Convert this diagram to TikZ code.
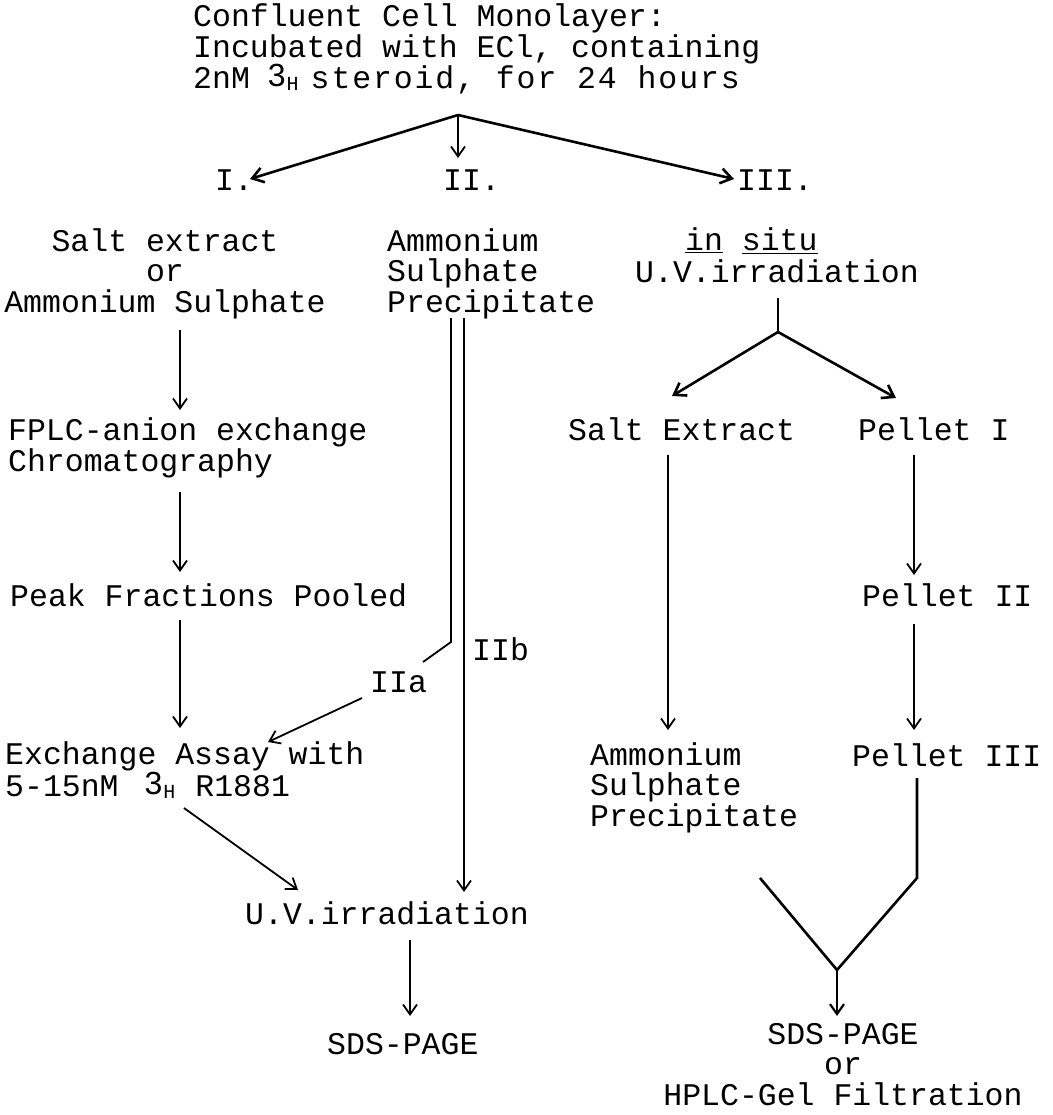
\documentclass[tikz,border=0pt]{standalone}
\usepackage{fontspec}
\setmainfont{Liberation Mono}
\setmonofont{Liberation Mono}
\setsansfont{Liberation Sans}
\usetikzlibrary{arrows.meta}
\newcommand\twfont{\fontsize{31.5}{30.5}\selectfont}
\newcommand\threeH{{\sffamily\fontsize{32}{32}\selectfont\raisebox{2pt}{3}}\hspace{1pt}{\fontsize{20}{20}\selectfont\raisebox{-2pt}{H}}}
\begin{document}
\begin{tikzpicture}[x=1pt,y=-1pt,
  txt/.style={inner sep=0pt, font=\twfont, anchor=base west, align=left},
  ctxt/.style={inner sep=0pt, font=\twfont, anchor=base, align=center},
  arr/.style={line width=1.8pt, -{Straight Barb[length=10pt,width=14pt]}},
  barr/.style={line width=2.6pt, -{Straight Barb[length=11pt,width=15pt]}},
  ln/.style={line width=1.8pt},
  bln/.style={line width=2.6pt, line join=miter}]
\useasboundingbox (0,0) rectangle (1052,1115);
% texts (base anchor = baseline of the last line)
\node[txt] (title) at (193,89) {Confluent Cell Monolayer:\\Incubated with ECl, containing\\2nM\hspace{18pt}\threeH\hspace{12pt}{\addfontfeature{LetterSpace=6}steroid, for 24 hours}};
\node[txt] (I) at (215,191) {I.};
\node[txt] (II) at (443,191) {II.};
\node[txt] (III) at (737,191) {III.};
\node[ctxt] (salt) at (165,312) {Salt extract\\or\\Ammonium Sulphate};
\node[txt] (amm) at (387,312) {Ammonium\\Sulphate\\Precipitate};
\node[txt] (insitu) at (685,251) {\underline{in} \underline{situ}};
\node[txt] (uv3) at (635,282) {U.V.irradiation};
\node[txt] (fplc) at (8,471) {FPLC-anion exchange\\Chromatography};
\node[txt] (saltx) at (568,440) {Salt Extract};
\node[txt] (p1) at (858,440) {Pellet I};
\node[txt] (peak) at (10,606) {Peak Fractions Pooled};
\node[txt] (p2) at (862,606) {Pellet II};
\node[txt] (IIb) at (472,660) {IIb};
\node[txt] (IIa) at (370,692) {IIa};
\node[txt] (exch) at (5,796) {Exchange Assay with\\5-15nM\hspace{26pt}\threeH\hspace{20pt}R1881};
\node[txt] (amm3) at (590,826) {Ammonium\\Sulphate\\Precipitate};
\node[txt] (p3) at (852,766) {Pellet III};
\node[txt] (uv) at (245,924) {U.V.irradiation};
\node[txt] (sds) at (327,1054) {SDS-PAGE};
\node[ctxt] (final) at (843,1105) {SDS-PAGE\\or\\HPLC-Gel Filtration};
% coordinates
\coordinate (apex) at (458,115);
\coordinate (tI) at (250,179);
\coordinate (tII) at (458,158);
\coordinate (tIII) at (734,179);
\coordinate (b3top) at (778,298);
\coordinate (b3) at (778,332);
\coordinate (tsx) at (672,396);
\coordinate (tp1) at (896,398);
\coordinate (aA) at (451,318);
\coordinate (aAb) at (451,642);
\coordinate (aAe) at (423,662);
\coordinate (aB) at (464,318);
\coordinate (aBe) at (464,892);
\coordinate (iaS) at (362,698);
\coordinate (iaE) at (268,742);
\coordinate (vJ) at (837,970);
\coordinate (pL) at (760,878);
\coordinate (pR) at (917,878);
\coordinate (pRt) at (917,778);
% connectors
\draw[barr] (apex) -- (tI);
\draw[barr] (apex) -- (tIII);
\draw[arr] (apex) -- (tII);
\draw[ln] (b3top) -- (b3);
\draw[barr] (b3) -- (tsx);
\draw[barr] (b3) -- (tp1);
\draw[arr] (180,330) -- (180,410);
\draw[arr] (180,492) -- (180,572);
\draw[arr] (180,620) -- (180,728);
\draw[arr] (184,808) -- (298,890);
\draw[ln] (aA) -- (aAb) -- (aAe);
\draw[arr] (aB) -- (aBe);
\draw[arr] (iaS) -- (iaE);
\draw[arr] (410,940) -- (410,1016);
\draw[arr] (668,455) -- (668,730);
\draw[arr] (914,455) -- (914,575);
\draw[arr] (914,624) -- (914,730);
\draw[bln] (pRt) -- (pR) -- (vJ) -- (pL);
\draw[arr, line width=2.2pt] (vJ) -- (837,1016);
\end{tikzpicture}
\end{document}
